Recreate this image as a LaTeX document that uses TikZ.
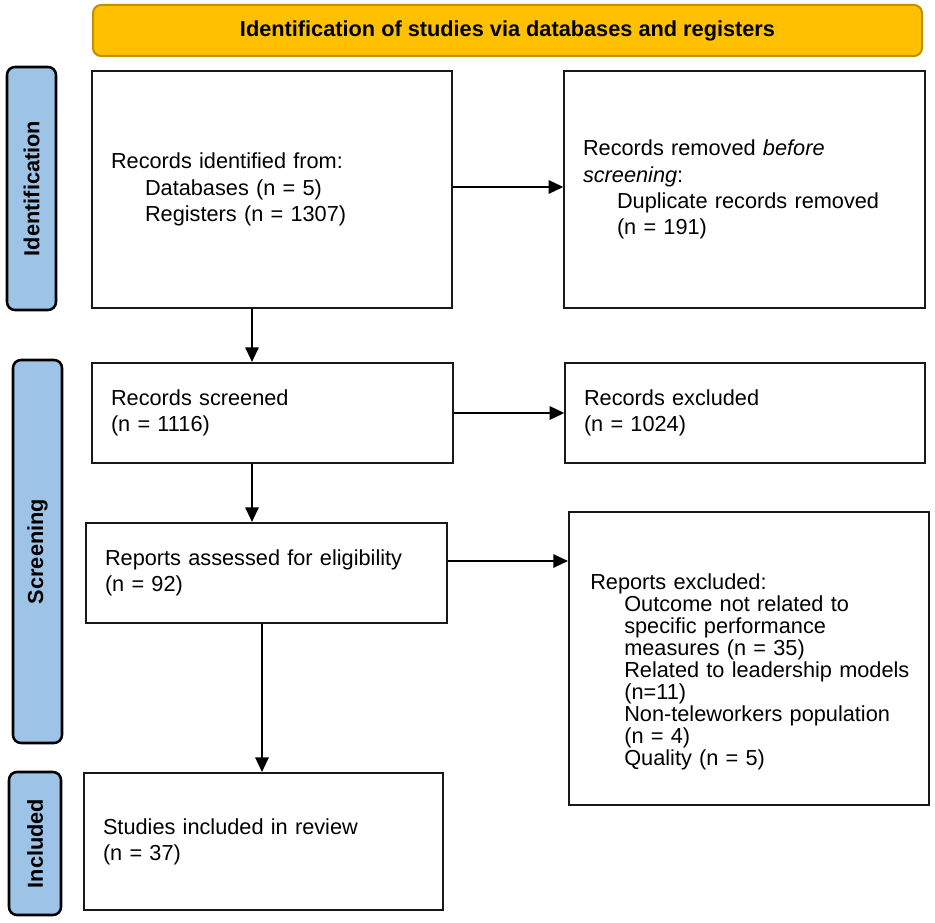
\documentclass[tikz,border=0pt]{standalone}
\usepackage{fontspec}
\setmainfont{Liberation Sans}
\usetikzlibrary{arrows.meta}
\definecolor{hdrfill}{HTML}{FFC000}
\definecolor{hdrdraw}{HTML}{BF9000}
\definecolor{barfill}{HTML}{9DC3E6}
\newcommand{\ind}{\hspace*{25.5pt}}
\tikzset{
  box/.style={draw=black!90, line width=1.5pt, fill=white, align=left, inner xsep=14pt,
    font=\fontsize{16.3pt}{19.6pt}\selectfont},
  sidebar/.style={draw=black, line width=1.9pt, fill=barfill, rounded corners=6pt, inner sep=0pt},
  sidetext/.style={rotate=90, font=\fontsize{16.3pt}{19.6pt}\selectfont\bfseries},
  arr/.style={line width=1.5pt, -{Triangle[length=11pt,width=10pt]}}
}
\begin{document}
\begin{tikzpicture}[x=0.75pt,y=-0.75pt]
\useasboundingbox (0,0) rectangle (935,923);
% header
\node[draw=hdrdraw, line width=1.5pt, fill=hdrfill, rounded corners=6pt,
  minimum width=829*0.75pt, minimum height=51*0.75pt, inner sep=0pt,
  font=\fontsize{16.3pt}{19.6pt}\selectfont\bfseries] (hdr) at (507.5,30.5)
  {Identification of studies via databases and registers};
% side bars
\node[sidebar, minimum width=49*0.75pt, minimum height=243*0.75pt] (sbid) at (31.5,188.5) {};
\node[sidetext] (tid) at (sbid.center) {Identification};
\node[sidebar, minimum width=49*0.75pt, minimum height=383*0.75pt] (sbsc) at (37.5,551.5) {};
\node[sidetext] (tsc) at (sbsc.center) {Screening};
\node[sidebar, minimum width=52*0.75pt, minimum height=143*0.75pt] (sbin) at (35,843.5) {};
\node[sidetext] (tin) at (sbin.center) {Included};
% boxes
\node[box, minimum height=237*0.75pt, text width=(360-38)*0.75pt] (b1) at (272,189.5)
  {Records identified from:\\ \ind Databases (n = 5)\\ \ind Registers (n = 1307)};
\node[box, minimum height=237*0.75pt, text width=(361-38)*0.75pt] (b2) at (744.5,189.5)
  {Records removed \textit{before}\\ \textit{screening}:\\ \ind Duplicate records removed\\ \ind(n = 191)};
\node[box, minimum height=100*0.75pt, text width=(361-38)*0.75pt] (b3) at (272.5,413)
  {Records screened\\ (n = 1116)};
\node[box, minimum height=100*0.75pt, text width=(360-38)*0.75pt] (b4) at (745,413)
  {Records excluded\\ (n = 1024)};
\node[box, minimum height=100*0.75pt, text width=(361-38)*0.75pt] (b5) at (266.5,573)
  {Reports assessed for eligibility\\ (n = 92)};
\node[box, minimum width=360*0.75pt, minimum height=293*0.75pt] (b6) at (749,658) {};
\node[align=left, anchor=west, inner sep=0pt, text width=320*0.75pt,
  font=\fontsize{16.3pt}{16.5pt}\selectfont] (t6) at (590,671.5)
  {Reports excluded:\\ \ind Outcome not related to\\ \ind specific performance\\ \ind measures (n = 35)\\
   \ind Related to leadership models\\ \ind (n=11)\\ \ind Non-teleworkers population\\ \ind (n = 4)\\ \ind Quality (n = 5)};
\node[box, minimum height=137*0.75pt, text width=(359-38)*0.75pt] (b7) at (263.5,841.5)
  {Studies included in review\\ (n = 37)};
% helper coordinates
\coordinate (v1) at (252,0);
\coordinate (v2) at (262,0);
\coordinate (h1) at (0,187);
\coordinate (h3) at (0,561);
% connectors
\draw[arr] (b1.east |- h1) -- (b2.west |- h1);
\draw[arr] (b1.south -| v1) -- (b3.north -| v1);
\draw[arr] (b3.east) -- (b4.west);
\draw[arr] (b3.south -| v1) -- (b5.north -| v1);
\draw[arr] (b5.east |- h3) -- (b6.west |- h3);
\draw[arr] (b5.south -| v2) -- (b7.north -| v2);
\end{tikzpicture}
\end{document}
